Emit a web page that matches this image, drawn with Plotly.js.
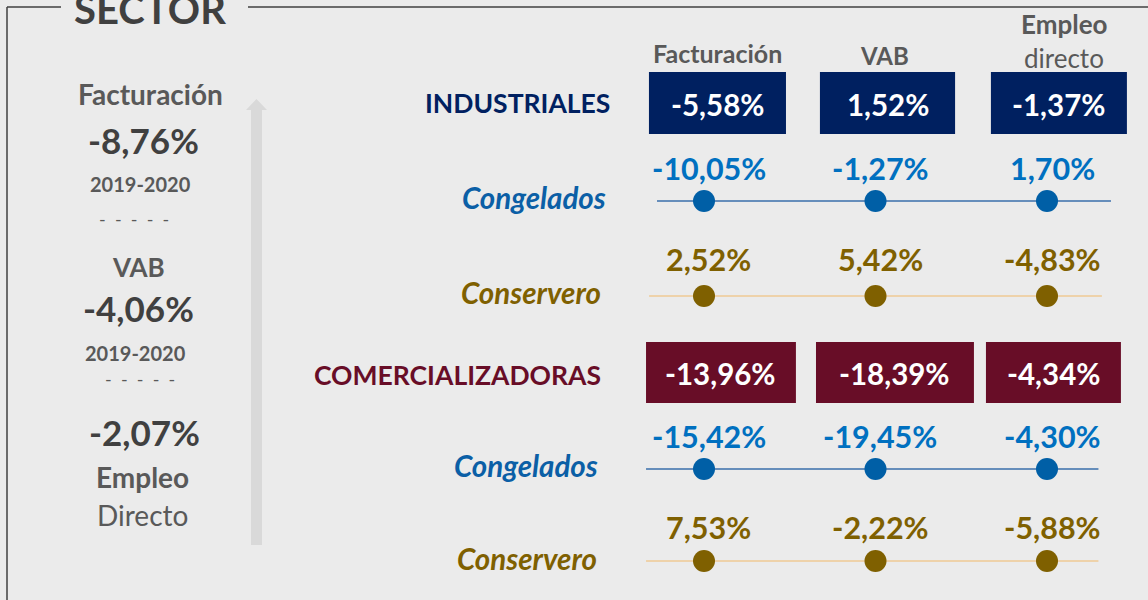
<!DOCTYPE html>
<html>
<head>
<meta charset="utf-8">
<script src="https://cdn.plot.ly/plotly-3.0.1.min.js"></script>
<style>html,body{margin:0;padding:0;background:#ebebeb;}#chart{width:1148px;height:600px;}</style>
</head>
<body>
<div id="chart"></div>
<script>
// ---------- DATA ----------
const title = "SECTOR";
const columns = ["Facturación", "VAB", "Empleo directo"];
const sectorMetrics = ["Facturación", "VAB", "Empleo"];
const sectorValues = [-8.76, -4.06, -2.07];
const period = "2019-2020";
const groups = ["INDUSTRIALES", "COMERCIALIZADORAS"];
const subgroups = ["Congelados", "Conservero"];
const industriales = [-5.58, 1.52, -1.37];
const indCongelados = [-10.05, -1.27, 1.70];
const indConservero = [2.52, 5.42, -4.83];
const comercializadoras = [-13.96, -18.39, -4.34];
const comCongelados = [-15.42, -19.45, -4.30];
const comConservero = [7.53, -2.22, -5.88];

// ---------- STYLE / LAYOUT CONSTANTS ----------
const W = 1148, H = 600;
const FONT = "Lato, 'Open Sans', sans-serif";
const BG = "#ebebeb";
const GREY = "#595959", DARK = "#404040";
const NAVY = "#002060", MAROON = "#680d27";
const BLUE_DOT = "#005fa6", BLUE_TXT = "#0070c0", BLUE_LBL = "#0b5fa6", BLUE_LINE = "#3a6fab";
const OLIVE = "#7f6000", TAN_LINE = "#efca94";
const colPx0 = 704, colStep = 171.5;
const rowY = {ind: 103, indCong: 201, indCons: 296, com: 372, comCong: 469, comCons: 561};
const boxY = {ind: [72, 134], com: [342, 403]};
const indBoxes = [[-0.321, 0.478], [-0.324, 0.464], [-0.327, 0.466]];
const comBoxes = [[-0.338, 0.536], [-0.347, 0.574], [-0.356, 0.431]];
const NB = "\u00a0";
const dashes = ["-", "-", "-", "-", "-"].join(NB + NB);

const fmt = v => (v < 0 ? "-" : "") + Math.abs(v).toFixed(2).replace(".", ",") + "%";
const px = x => x / W;

const shapes = [];
const annotations = [];
function txt(x, y, text, size, color, opts) {
  opts = opts || {};
  annotations.push(Object.assign({
    x: x, y: y, xref: "paper", yref: "y", text: text, showarrow: false,
    xanchor: "center", yanchor: "middle",
    font: {family: FONT, size: size, color: color}
  }, opts));
}

// frame
shapes.push({type: "line", xref: "paper", yref: "y", x0: px(7), x1: px(61), y0: 7, y1: 7, line: {color: DARK, width: 1.5}});
shapes.push({type: "line", xref: "paper", yref: "y", x0: px(248), x1: 1, y0: 7, y1: 7, line: {color: DARK, width: 1.5}});
shapes.push({type: "line", xref: "paper", yref: "y", x0: px(7), x1: px(7), y0: 7, y1: 600, line: {color: DARK, width: 1.5}});
// arrow
shapes.push({type: "rect", xref: "paper", yref: "y", x0: px(251), x1: px(262), y0: 110, y1: 545, line: {width: 0}, fillcolor: "#d9d9d9", layer: "below"});
shapes.push({type: "path", xref: "paper", yref: "y", path: `M ${px(246)},110 L ${px(256.5)},99 L ${px(267)},110 Z`, line: {width: 0}, fillcolor: "#d9d9d9", layer: "below"});

// title
txt(px(150), 9, "<b>" + title + "</b>", 40, DARK);

// left panel
txt(px(150), 94, "<b>" + sectorMetrics[0] + "</b>", 28, GREY);
txt(px(143), 140, "<b>" + fmt(sectorValues[0]) + "</b>", 35, DARK);
txt(px(140), 184, "<b>" + period + "</b>", 20, GREY);
txt(px(134), 219, dashes, 18, GREY);
txt(px(138), 267, "<b>" + sectorMetrics[1] + "</b>", 26, GREY);
txt(px(138), 308, "<b>" + fmt(sectorValues[1]) + "</b>", 35, DARK);
txt(px(135), 353, "<b>" + period + "</b>", 20, GREY);
txt(px(140), 379, dashes, 18, GREY);
txt(px(144), 432, "<b>" + fmt(sectorValues[2]) + "</b>", 35, DARK);
txt(px(142), 477, "<b>" + sectorMetrics[2] + "</b>", 28, GREY);
txt(px(142), 515, "Directo", 28, GREY);

// column headers
const hdrParts = columns.map(c => c.split(" "));
txt(px(717), 53, "<b>" + hdrParts[0][0] + "</b>", 25, GREY);
txt(px(884), 55, "<b>" + hdrParts[1][0] + "</b>", 24, GREY);
txt(px(1064), 24, "<b>" + hdrParts[2][0] + "</b>", 26, GREY);
txt(px(1064), 58, hdrParts[2][1], 26, GREY);

// row labels
txt(px(612), rowY.ind, "<b>" + groups[0] + "</b>", 26.5, NAVY, {xanchor: "right"});
txt(px(608), 197, "<b><i>" + subgroups[0] + "</i></b>", 29.5, BLUE_LBL, {xanchor: "right"});
txt(px(603), 292, "<b><i>" + subgroups[1] + "</i></b>", 29.5, OLIVE, {xanchor: "right"});
txt(px(603), 375, "<b>" + groups[1] + "</b>", 26.5, MAROON, {xanchor: "right"});
txt(px(600), 465, "<b><i>" + subgroups[0] + "</i></b>", 29.5, BLUE_LBL, {xanchor: "right"});
txt(px(599), 558, "<b><i>" + subgroups[1] + "</i></b>", 29.5, OLIVE, {xanchor: "right"});

// boxes
function boxes(vals, ext, yr, color) {
  vals.forEach((v, i) => {
    const x0 = i + ext[i][0], x1 = i + ext[i][1];
    shapes.push({type: "rect", xref: "x", yref: "y", x0: x0, x1: x1, y0: yr[0], y1: yr[1], fillcolor: color, line: {width: 0}});
    annotations.push({x: (x0 + x1) / 2, y: (yr[0] + yr[1]) / 2 + 1, xref: "x", yref: "y", text: "<b>" + fmt(v) + "</b>", showarrow: false,
      font: {family: FONT, size: 29.5, color: "#ffffff"}, xanchor: "center", yanchor: "middle"});
  });
}
boxes(industriales, indBoxes, boxY.ind, NAVY);
boxes(comercializadoras, comBoxes, boxY.com, MAROON);

// dot rows
const traces = [];
function dotRow(vals, y, lineExt, lineColor, dotColor, txtColor, labelOffset) {
  shapes.push({type: "line", xref: "x", yref: "y", x0: lineExt[0], x1: lineExt[1], y0: y, y1: y, line: {color: lineColor, width: 1.3}, layer: "below"});
  traces.push({type: "scatter", mode: "markers", x: columns, y: columns.map(() => y),
    marker: {size: 22, color: dotColor}, hoverinfo: "skip", cliponaxis: false, showlegend: false});
  vals.forEach((v, i) => {
    annotations.push({x: i, y: y - labelOffset, xref: "x", yref: "y", xshift: 5, text: "<b>" + fmt(v) + "</b>", showarrow: false,
      font: {family: FONT, size: 30.5, color: txtColor}, xanchor: "center", yanchor: "middle"});
  });
}
dotRow(indCongelados, rowY.indCong, [-0.274, 2.373], BLUE_LINE, BLUE_DOT, BLUE_TXT, 33);
dotRow(indConservero, rowY.indCons, [-0.32, 2.32], TAN_LINE, OLIVE, OLIVE, 37);
dotRow(comCongelados, rowY.comCong, [-0.338, 2.30], BLUE_LINE, BLUE_DOT, BLUE_TXT, 33);
dotRow(comConservero, rowY.comCons, [-0.338, 2.30], TAN_LINE, OLIVE, OLIVE, 34);

const layout = {
  width: W, height: H,
  margin: {l: 0, r: 0, t: 0, b: 0, pad: 0},
  paper_bgcolor: BG, plot_bgcolor: "rgba(0,0,0,0)",
  showlegend: false,
  xaxis: {type: "category", categoryarray: columns, range: [-0.5, 2.5],
    domain: [(colPx0 - colStep / 2) / W, (colPx0 + 2.5 * colStep) / W],
    visible: false, fixedrange: true},
  yaxis: {range: [H, 0], domain: [0, 1], visible: false, fixedrange: true},
  shapes: shapes,
  annotations: annotations,
  font: {family: FONT}
};
Plotly.newPlot("chart", traces, layout, {displayModeBar: false, staticPlot: true});
</script>
</body>
</html>
